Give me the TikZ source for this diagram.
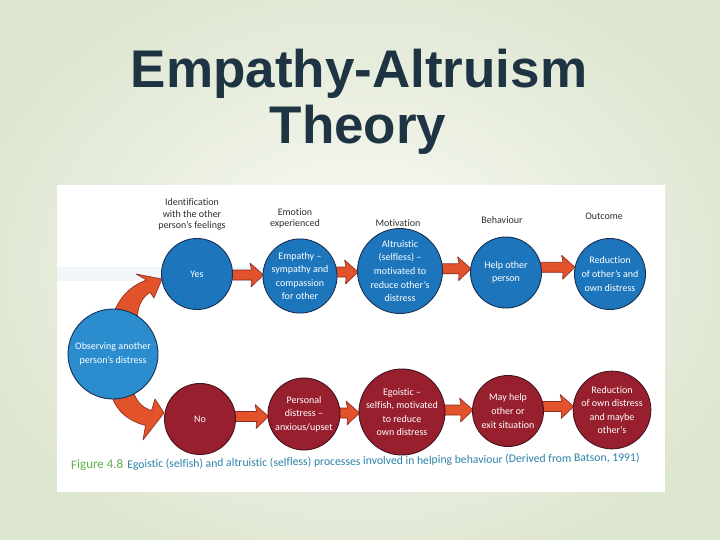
\documentclass[tikz,border=0pt]{standalone}
\usepackage{fontspec}
\setmainfont{Carlito}[Ligatures={NoCommon}]
\newfontfamily\titlefont{Liberation Sans}
\usetikzlibrary{calc}
\pgfdeclarelayer{bg}
\pgfdeclarelayer{arr}
\pgfsetlayers{bg,arr,main}
\definecolor{circblue}{HTML}{1D76BC}
\definecolor{obsblue}{HTML}{2B8DCE}
\definecolor{circblueline}{HTML}{172E55}
\definecolor{circred}{HTML}{971F2E}
\definecolor{circredline}{HTML}{45141F}
\definecolor{arrfill}{HTML}{E2532B}
\definecolor{arrline}{HTML}{8A2A20}
\definecolor{titlecol}{HTML}{1E3442}
\definecolor{hdrgray}{HTML}{2E2E2E}
\definecolor{figgreen}{HTML}{5DB04E}
\definecolor{capblue}{HTML}{2B82A8}
\definecolor{bgouter}{HTML}{DCE5CE}
\definecolor{bginner}{HTML}{FAFBF7}
\definecolor{bandblue}{HTML}{F3F6F9}
\newcommand\blockarr[3]{%
  \begin{pgfonlayer}{arr}
  \draw[barrow] let \p1=(#1.east), \p2=(#2.west), \p3=($(\p1)!0.5!(\p2)+(0,#3)$) in
    (\x1-4pt,\y3+5pt) -- (\x2-11pt,\y3+5pt) -- (\x2-12.5pt,\y3+12pt) -- (\x2+1pt,\y3)
    -- (\x2-11.5pt,\y3-12pt) -- (\x2-11pt,\y3-5pt) -- (\x1-4pt,\y3-5pt) -- cycle;
  \end{pgfonlayer}}
\begin{document}
\begin{tikzpicture}[x=1pt,y=-1pt,
  circ/.style={circle, line width=0.9pt, minimum size=71pt, inner sep=0pt, align=center,
    text=white, font=\fontsize{10}{13.6}\selectfont},
  bluec/.style={circ, fill=circblue, draw=circblueline},
  redc/.style={circ, fill=circred, draw=circredline},
  hdr/.style={align=center, text=hdrgray, font=\fontsize{10}{11.7}\selectfont, inner sep=0pt},
  barrow/.style={fill=arrfill, draw=arrline, line width=0.6pt, line join=round},
  ttl/.style={font=\titlefont\bfseries\fontsize{53}{56}\selectfont, inner sep=0pt, anchor=base}
]
\useasboundingbox (0,0) rectangle (720,540);
\begin{pgfonlayer}{bg}
  \shade[inner color=bginner, outer color=bgouter] (-60,-60) rectangle (780,600);
  \fill[white] (57,185) rectangle (665,492);
  \fill[bandblue] (57,267) rectangle (320,281);
\end{pgfonlayer}

% title
\node[ttl, text=titlecol] (t1) at (359,88) {Empathy-Altruism};
\node[ttl, text=titlecol] (t2) at (358,143.5) {Theory};

% headers
\node[hdr] (hid) at (192,214.4) {Identification\\with the other\\person’s feelings};
\node[hdr] (hem) at (295,218.5) {Emotion\\experienced};
\node[hdr, anchor=base] (hmo) at (398,226) {Motivation};
\node[hdr, anchor=base] (hbe) at (502,223.5) {Behaviour};
\node[hdr, anchor=base] (hou) at (604,220) {Outcome};

% circles
\node[circ, fill=obsblue, draw=circblueline, minimum size=90pt] (obs) at (113,354) {Observing another\\person’s distress};
\node[bluec] (yes) at (197,274) {Yes};
\node[bluec, minimum size=72pt] (emp) at (300,276) {Empathy –\\sympathy and\\compassion\\for other};
\node[bluec, minimum size=72pt] (alt) at (400,271) {Altruistic\\(selfless) –\\motivated to\\reduce other’s\\distress};
\node[bluec] (hlp) at (506,272.5) {Help other\\person};
\node[bluec] (out) at (610,274) {Reduction\\of other’s and\\own distress};

\node[redc] (no) at (200,419) {No};
\node[redc, minimum size=72pt] (per) at (304,414) {Personal\\distress –\\anxious/upset};
\node[redc, minimum size=72pt] (ego) at (402,412) {Egoistic –\\selfish, motivated\\to reduce\\own distress};
\node[redc] (may) at (508,411) {May help\\other or\\exit situation};
\node[redc, minimum size=72pt] (red) at (612,410) {Reduction\\of own distress\\and maybe\\other’s};

% straight block arrows
\blockarr{yes}{emp}{0}
\blockarr{emp}{alt}{-1.5}
\blockarr{alt}{hlp}{-3}
\blockarr{hlp}{out}{-6}
\blockarr{no}{per}{0}
\blockarr{per}{ego}{0}
\blockarr{ego}{may}{-1.5}
\blockarr{may}{red}{-4}

% curved block arrows from the observing circle
\begin{pgfonlayer}{arr}
\begin{scope}[shift={(obs.center)}]
  \draw[barrow] (-1,-36) .. controls (5,-56) and (17,-68) .. (33.5,-74)
    -- (23,-80) -- (49,-75) -- (41,-56) -- (37,-61.7)
    .. controls (31,-58) and (27,-52) .. (25.3,-44) -- (24,-36) -- cycle;
  \draw[barrow] (-3,36) .. controls (1,56) and (15,67) .. (32.5,71.5)
    -- (30,86) -- (51,59) -- (42,45) -- (38.5,56.5)
    .. controls (30,54) and (23,48) .. (20,36) -- cycle;
\end{scope}
\end{pgfonlayer}

% caption
\node[anchor=base west, inner sep=0pt, rotate=0.8] (cap) at (71,469)
  {\fontsize{13}{14}\selectfont\color{figgreen}Figure 4.8\hspace{4pt}\fontsize{11.7}{13}\selectfont\color{capblue}Egoistic (selfish) and altruistic (selfless) processes involved in helping behaviour (Derived from Batson, 1991)};
\end{tikzpicture}
\end{document}
